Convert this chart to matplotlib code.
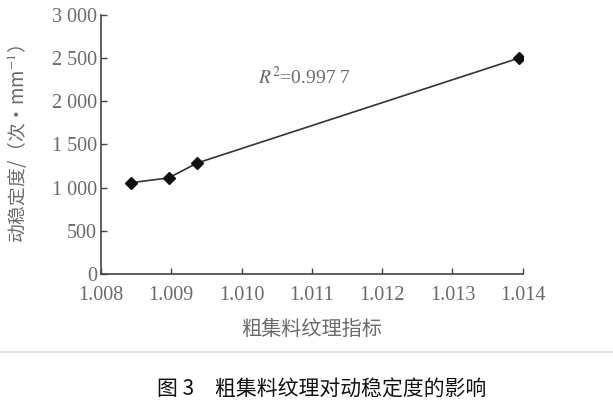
import matplotlib
matplotlib.use('Agg')
import matplotlib.pyplot as plt
from matplotlib.lines import Line2D

# texture index vs dynamic stability
texture = [1.00842, 1.00896, 1.00937, 1.01395]
stability = [1057, 1112, 1286, 2502]

x_ticks = [1.008, 1.009, 1.010, 1.011, 1.012, 1.013, 1.014]
x_labels = ['1.008', '1.009', '1.010', '1.011', '1.012', '1.013', '1.014']
y_ticks = [0, 500, 1000, 1500, 2000, 2500, 3000]
y_labels = ['0', '500', '1 000', '1 500', '2 000', '2 500', '3 000']


def main():
    plt.rcParams['font.family'] = ['Liberation Serif', 'Noto Sans CJK SC', 'DejaVu Sans']
    plt.rcParams['mathtext.fontset'] = 'stix'
    grey = '#6a6a6a'
    cjk = ['Noto Sans CJK SC', 'DejaVu Sans']

    fig = plt.figure(figsize=(6.13, 4.12), dpi=100)
    ax = fig.add_axes([0.1648, 0.335, 0.688, 0.6286])

    ax.plot(texture, stability, color='#333333', lw=1.2)
    ax.plot(texture, stability, ls='none', marker='D', ms=6.5, color='#111111')

    ax.set_xlim(1.008, 1.014)
    ax.set_ylim(0, 3000)
    ax.set_xticks(x_ticks)
    ax.set_xticklabels(x_labels)
    ax.set_yticks(y_ticks)
    ax.set_yticklabels(y_labels)
    ax.tick_params(direction='in', length=4, width=1, colors='#444444',
                   labelcolor=grey, labelsize=14.5)
    ax.tick_params(axis='x', pad=9)
    ax.tick_params(axis='y', pad=3)
    for s in ['top', 'right']:
        ax.spines[s].set_visible(False)
    for s in ['left', 'bottom']:
        ax.spines[s].set_color('#444444')
        ax.spines[s].set_linewidth(1.2)

    ax.set_xlabel('粗集料纹理指标', fontsize=14.5, color=grey, family=cjk)
    ax.xaxis.set_label_coords(0.5, -0.175)
    ax.set_ylabel('动稳定度/（次•mm$^{-1}$）', fontsize=13.5, color=grey, family=cjk)
    ax.yaxis.set_label_coords(-0.17, 0.5)

    ax.text(1.01023, 2200, '$R^2$=0.997 7', fontsize=14, color=grey)

    fig.add_artist(Line2D([0, 1], [1 - 352 / 412, 1 - 352 / 412],
                          color='#e6e6e6', lw=1.5, transform=fig.transFigure))
    fig.text(0.525, 1 - 390 / 412, '图 3　粗集料纹理对动稳定度的影响',
             ha='center', va='center', fontsize=15, color='#111111',
             family=cjk, weight='medium')

    fig.savefig('out.png', dpi=100)


if __name__ == '__main__':
    main()
